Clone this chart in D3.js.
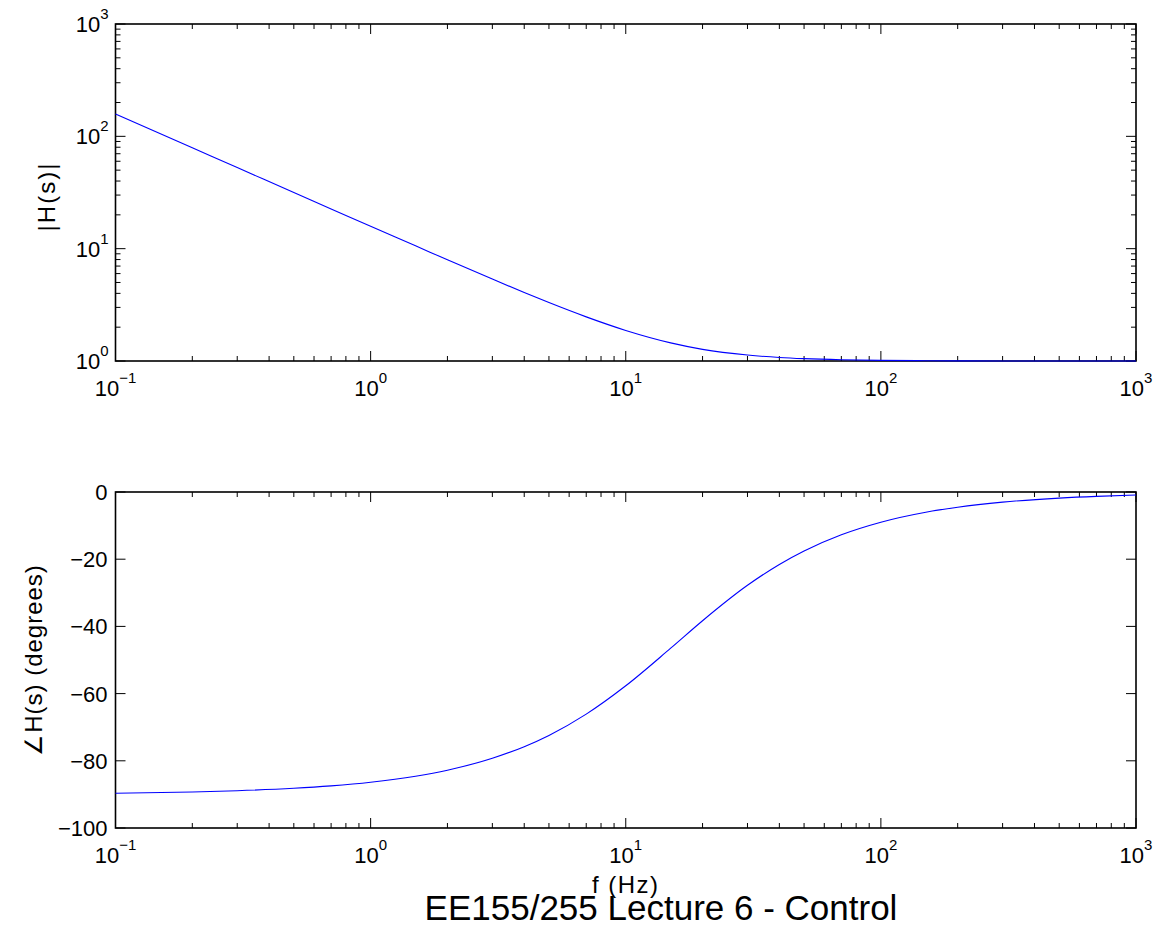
<!DOCTYPE html>
<html><head><meta charset="utf-8">
<script src="https://cdn.jsdelivr.net/npm/d3@7"></script>
<style>
body{margin:0;background:#fff}
svg text{font-family:"Liberation Sans",Arial,Helvetica,sans-serif;fill:#000}
</style>
</head><body><svg id="c" width="1158" height="926"></svg>
<script>
// ---- data ----
const freqHz = [0.1,0.2,0.3,0.5,0.7,1,1.5,2,3,4,5,7,10,15,20,30,40,50,70,100,150,200,300,500,700,1000];
const magnitude = [158,79.0,52.7,31.6,22.6,15.8,10.6,7.96,5.36,4.07,3.31,2.47,1.87,1.45,1.27,1.13,1.075,1.049,1.025,1.012,1.006,1.003,1.001,1.0005,1.0003,1.0001];
const phaseDeg = [-89.64,-89.27,-88.91,-88.19,-87.46,-86.38,-84.58,-82.79,-79.25,-75.79,-72.44,-66.10,-57.67,-46.49,-38.31,-27.77,-21.55,-17.54,-12.72,-8.98,-6.01,-4.52,-3.01,-1.81,-1.29,-0.91];
const xTickExponents = [-1,0,1,2,3];
const magTickExponents = [0,1,2,3];
const phaseTicks = [0,-20,-40,-60,-80,-100];
const magLabel = "|H(s)|";
const phaseLabel = "\u2220H(s)  (degrees)";
const xLabel = "f (Hz)";
const title = "EE155/255 Lecture 6 - Control";

const svg = d3.select("#c");
const L = 115.5, R = 1136;
const top1 = 24, bot1 = 361, top2 = 492, bot2 = 828;
const x = d3.scaleLog().domain([0.1, 1000]).range([L, R]);
const y1 = d3.scaleLog().domain([1, 1000]).range([bot1, top1]);
const y2 = d3.scaleLinear().domain([-100, 0]).range([bot2, top2]);

const MAJ = 10, MIN = 5;
const minor = (lo, hi) => { const a = []; for (let e = lo; e < hi; e++) for (let k = 2; k <= 9; k++) a.push(k * Math.pow(10, e)); return a; };
const minus = s => String(s).replace("-", "\u2212");

function powLabel(g, px, py, exp, anchor) {
  const t = g.append("text").attr("x", px).attr("y", py).attr("text-anchor", anchor).style("font-size", "22px");
  t.append("tspan").text("10");
  t.append("tspan").attr("dy", -13).style("font-size", "15px").text(minus(exp));
}

function frame(yTop, yBot) {
  const g = svg.append("g");
  const xs = xTickExponents.map(e => Math.pow(10, e));
  xs.forEach(v => {
    const px = x(v);
    g.append("line").attr("x1", px).attr("x2", px).attr("y1", yBot).attr("y2", yBot - MAJ).attr("stroke", "#000");
    g.append("line").attr("x1", px).attr("x2", px).attr("y1", yTop).attr("y2", yTop + MAJ).attr("stroke", "#000");
  });
  minor(-1, 3).forEach(v => {
    const px = x(v);
    g.append("line").attr("x1", px).attr("x2", px).attr("y1", yBot).attr("y2", yBot - MIN).attr("stroke", "#000");
    g.append("line").attr("x1", px).attr("x2", px).attr("y1", yTop).attr("y2", yTop + MIN).attr("stroke", "#000");
  });
  xTickExponents.forEach(e => powLabel(g, x(Math.pow(10, e)), yBot + 35, e, "middle"));
  return g;
}

// ---- top: magnitude ----
const g1 = frame(top1, bot1);
magTickExponents.forEach(e => {
  const py = y1(Math.pow(10, e));
  g1.append("line").attr("x1", L).attr("x2", L + MAJ).attr("y1", py).attr("y2", py).attr("stroke", "#000");
  g1.append("line").attr("x1", R).attr("x2", R - MAJ).attr("y1", py).attr("y2", py).attr("stroke", "#000");
  powLabel(g1, L - 7, py + 8, e, "end");
});
minor(0, 3).forEach(v => {
  const py = y1(v);
  g1.append("line").attr("x1", L).attr("x2", L + MIN).attr("y1", py).attr("y2", py).attr("stroke", "#000");
  g1.append("line").attr("x1", R).attr("x2", R - MIN).attr("y1", py).attr("y2", py).attr("stroke", "#000");
});
g1.append("rect").attr("x", L).attr("y", top1).attr("width", R - L).attr("height", bot1 - top1)
  .attr("fill", "none").attr("stroke", "#000").attr("stroke-width", 1.6);
g1.append("text").attr("transform", `translate(55,${(top1 + bot1) / 2 + 4}) rotate(-90)`)
  .attr("text-anchor", "middle").style("font-size", "24px").style("letter-spacing", "2px").text(magLabel);

const line1 = d3.line().x((d, i) => x(freqHz[i])).y(d => y1(d)).curve(d3.curveMonotoneX);
svg.append("path").datum(magnitude).attr("d", line1).attr("fill", "none").attr("stroke", "#0000ff").attr("stroke-width", 1.1);

// ---- bottom: phase ----
const g2 = frame(top2, bot2);
phaseTicks.forEach(v => {
  const py = y2(v);
  g2.append("line").attr("x1", L).attr("x2", L + MAJ).attr("y1", py).attr("y2", py).attr("stroke", "#000");
  g2.append("line").attr("x1", R).attr("x2", R - MAJ).attr("y1", py).attr("y2", py).attr("stroke", "#000");
  g2.append("text").attr("x", L - 8).attr("y", py + 8).attr("text-anchor", "end").style("font-size", "22px").text(minus(v));
});
g2.append("rect").attr("x", L).attr("y", top2).attr("width", R - L).attr("height", bot2 - top2)
  .attr("fill", "none").attr("stroke", "#000").attr("stroke-width", 1.6);
g2.append("text").attr("transform", `translate(42,${(top2 + bot2) / 2}) rotate(-90)`)
  .attr("text-anchor", "middle").style("font-size", "24px").style("letter-spacing", "1px").text(phaseLabel);

const line2 = d3.line().x((d, i) => x(freqHz[i])).y(d => y2(d)).curve(d3.curveMonotoneX);
svg.append("path").datum(phaseDeg).attr("d", line2).attr("fill", "none").attr("stroke", "#0000ff").attr("stroke-width", 1.1);

// ---- x label and title ----
svg.append("text").attr("x", (L + R) / 2).attr("y", 893).attr("text-anchor", "middle").style("font-size", "24px").style("letter-spacing", "1.5px").text(xLabel);
svg.append("text").attr("x", 661).attr("y", 920).attr("text-anchor", "middle").style("font-size", "35px").text(title);
</script>
</body></html>
